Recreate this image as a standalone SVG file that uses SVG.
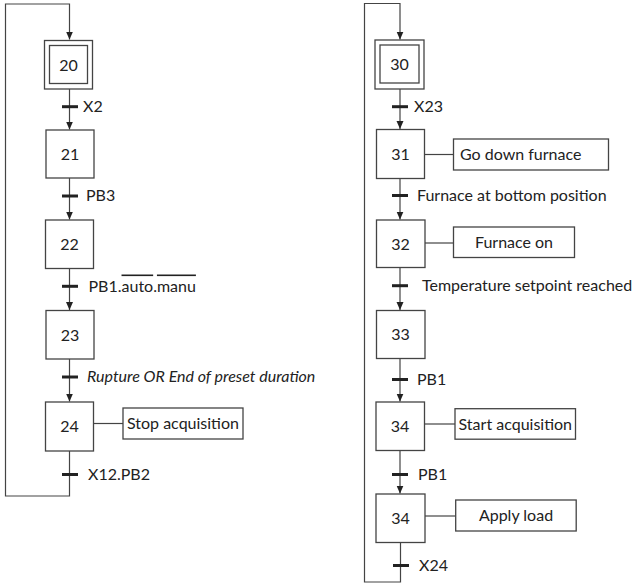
<svg xmlns="http://www.w3.org/2000/svg" width="632" height="587" viewBox="0 0 632 587">
<defs>
<marker id="arr" viewBox="0 0 8 8" refX="8" refY="4" markerWidth="8" markerHeight="8" markerUnits="userSpaceOnUse" orient="auto">
<path d="M0,0.5 L8,4 L0,7.5 Z" fill="#222"/>
</marker>
<style>
.box{fill:#fff;stroke:#444;stroke-width:1.3}
.ln{fill:none;stroke:#444;stroke-width:1.2}
.bar{stroke:#222;stroke-width:3}
.t{font-family:Lato,"Liberation Sans",sans-serif;font-size:16px;fill:#222}
.c{text-anchor:middle}
.ol{text-decoration:overline}
</style>
</defs>
<rect width="632" height="587" fill="#fff"/>
<g id="connectors">
<path class="ln" d="M69.5,451 V496 H5.5 V4 H69.5 V39.5" marker-end="url(#arr)"/>
<path class="ln" d="M69.5,89 V129.5" marker-end="url(#arr)"/>
<path class="ln" d="M69.5,178 V219.5" marker-end="url(#arr)"/>
<path class="ln" d="M69.5,268.5 V310" marker-end="url(#arr)"/>
<path class="ln" d="M69.5,359 V401.5" marker-end="url(#arr)"/>
<path class="ln" d="M93.5,423.5 H123"/>
<line class="bar" x1="62" y1="106.7" x2="78" y2="106.7"/>
<line class="bar" x1="62" y1="196" x2="78" y2="196"/>
<line class="bar" x1="62" y1="286.3" x2="78" y2="286.3"/>
<line class="bar" x1="62" y1="377" x2="78" y2="377"/>
<line class="bar" x1="62" y1="474.5" x2="78" y2="474.5"/>

<path class="ln" d="M400.5,542.5 V582 H364.5 V3.5 H400 V39.5" marker-end="url(#arr)"/>
<path class="ln" d="M400,89 V129" marker-end="url(#arr)"/>
<path class="ln" d="M400,178.5 V219.5" marker-end="url(#arr)"/>
<path class="ln" d="M400,267.5 V310" marker-end="url(#arr)"/>
<path class="ln" d="M400,358.5 V401.5" marker-end="url(#arr)"/>
<path class="ln" d="M400,450.5 V493.5" marker-end="url(#arr)"/>
<path class="ln" d="M424.5,154.5 H453.5"/>
<path class="ln" d="M424.5,243 H453.5"/>
<path class="ln" d="M424.5,424 H455"/>
<path class="ln" d="M425,516 H455.7"/>
<line class="bar" x1="392" y1="106.7" x2="408" y2="106.7"/>
<line class="bar" x1="392" y1="195.5" x2="408" y2="195.5"/>
<line class="bar" x1="392" y1="285.7" x2="408" y2="285.7"/>
<line class="bar" x1="392" y1="379.5" x2="408" y2="379.5"/>
<line class="bar" x1="392" y1="474.5" x2="408" y2="474.5"/>
<line class="bar" x1="393" y1="565.5" x2="409" y2="565.5"/>
</g>
<g id="labels">
<text class="t" x="83" y="112">X2</text>
<text class="t" x="86" y="201">PB3</text>
<text class="t" x="88.5" y="291.5">PB1.<tspan class="ol">auto</tspan>.<tspan class="ol">manu</tspan></text>
<text class="t" x="87" y="382" font-style="italic">Rupture OR End of preset duration</text>
<text class="t" x="88" y="480">X12.PB2</text>
<text class="t" x="414" y="112">X23</text>
<text class="t" x="417" y="200.5">Furnace at bottom position</text>
<text class="t" x="422" y="291">Temperature setpoint reached</text>
<text class="t" x="417" y="385">PB1</text>
<text class="t" x="418" y="480">PB1</text>
<text class="t" x="419" y="571">X24</text>
</g>
<g id="step20"><rect class="box" x="44.5" y="40.5" width="48" height="48.5"/><rect class="box" x="49.5" y="45.5" width="38" height="38"/><text class="t c" x="68.5" y="70.5">20</text></g>
<g id="step21"><rect class="box" x="46" y="130" width="48" height="48"/><text class="t c" x="70" y="159.5">21</text></g>
<g id="step22"><rect class="box" x="45.5" y="220" width="48" height="48.5"/><text class="t c" x="69.5" y="249.5">22</text></g>
<g id="step23"><rect class="box" x="46" y="310.5" width="48" height="48.5"/><text class="t c" x="70" y="340.5">23</text></g>
<g id="step24"><rect class="box" x="45.5" y="402" width="48" height="49"/><text class="t c" x="69.5" y="432">24</text></g>
<g id="action24"><rect class="box" x="123" y="408" width="120" height="31"/><text class="t c" x="183" y="429">Stop acquisition</text></g>

<g id="step30"><rect class="box" x="375" y="40" width="49" height="49"/><rect class="box" x="380" y="45" width="39" height="38"/><text class="t c" x="399.5" y="70">30</text></g>
<g id="step31"><rect class="box" x="376.5" y="129.5" width="48" height="49"/><text class="t c" x="400.5" y="159.5">31</text></g>
<g id="action31"><rect class="box" x="453.5" y="139" width="155" height="31"/><text class="t" x="460" y="160">Go down furnace</text></g>
<g id="step32"><rect class="box" x="376.5" y="220" width="48.5" height="47.5"/><text class="t c" x="400.5" y="249.5">32</text></g>
<g id="action32"><rect class="box" x="453.5" y="227" width="121" height="30.5"/><text class="t c" x="514" y="247.5">Furnace on</text></g>
<g id="step33"><rect class="box" x="376.5" y="310.5" width="48.5" height="48"/><text class="t c" x="400.5" y="340">33</text></g>
<g id="step34a"><rect class="box" x="376" y="402" width="48.5" height="48.5"/><text class="t c" x="400" y="431.5">34</text></g>
<g id="action34a"><rect class="box" x="455" y="408.7" width="120.5" height="30.5"/><text class="t c" x="515.3" y="429.5">Start acquisition</text></g>
<g id="step34b"><rect class="box" x="376" y="494" width="49" height="48.5"/><text class="t c" x="400.5" y="523.5">34</text></g>
<g id="action34b"><rect class="box" x="455.7" y="500" width="120.5" height="31" /><text class="t c" x="516" y="521">Apply load</text></g>
</svg>
